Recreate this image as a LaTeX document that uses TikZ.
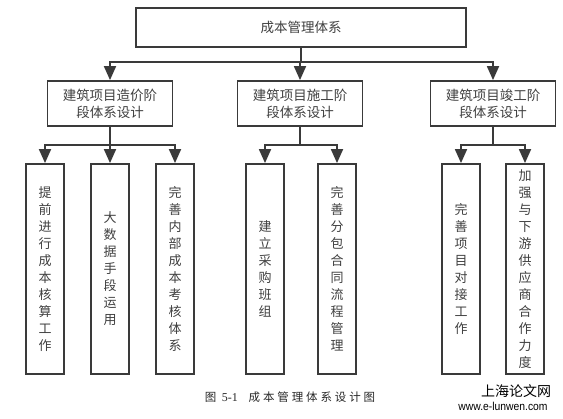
\documentclass[tikz,border=0pt]{standalone}
\usepackage{fontspec}
\setmainfont{Liberation Sans}
\newfontfamily\cjk{Noto Sans CJK SC}
\newfontfamily\capcjk[LetterSpace=25]{Noto Sans CJK SC}
\newfontfamily\capserif{Liberation Serif}
\usetikzlibrary{arrows.meta}
\definecolor{ln}{HTML}{3A3A3A}
\definecolor{tx}{HTML}{404040}
\tikzset{
  box/.style={draw=ln, line width=1.8pt, fill=white, inner sep=0pt, text=tx, font=\cjk\fontsize{13.5}{17}\selectfont, align=center},
  topbox/.style={box, minimum width=330pt, minimum height=39pt},
  midbox/.style={box, minimum width=125pt, minimum height=45pt},
  leafbox/.style={box, minimum width=38pt, minimum height=210pt, font=\cjk\fontsize{13}{17}\selectfont},
  conn/.style={draw=ln, line width=1.8pt},
  arr/.style={conn, -{Triangle[length=14pt, width=12pt]}},
}
\begin{document}
\begin{tikzpicture}[x=1pt, y=-1pt]
\useasboundingbox (0,0) rectangle (563,419);
% top
\node[topbox] (top) at (301,27.5) {\raisebox{-2pt}{成本管理体系}};
% middle
\node[midbox] (m1) at (110,103.5) {\raisebox{-2pt}{\parbox{120pt}{\centering 建筑项目造价阶\\段体系设计}}};
\node[midbox] (m2) at (300,103.5) {\raisebox{-2pt}{\parbox{120pt}{\centering 建筑项目施工阶\\段体系设计}}};
\node[midbox] (m3) at (493,103.5) {\raisebox{-2pt}{\parbox{120pt}{\centering 建筑项目竣工阶\\段体系设计}}};
% leaves
\node[leafbox] (l1) at (45,269) {\raisebox{-3pt}{\parbox{14pt}{\centering 提\\前\\进\\行\\成\\本\\核\\算\\工\\作}}};
\node[leafbox] (l2) at (110,269) {\raisebox{-3pt}{\parbox{14pt}{\centering 大\\数\\据\\手\\段\\运\\用}}};
\node[leafbox] (l3) at (175,269) {\raisebox{-3pt}{\parbox{14pt}{\centering 完\\善\\内\\部\\成\\本\\考\\核\\体\\系}}};
\node[leafbox] (l4) at (265,269) {\raisebox{-3pt}{\parbox{14pt}{\centering 建\\立\\采\\购\\班\\组}}};
\node[leafbox] (l5) at (337,269) {\raisebox{-3pt}{\parbox{14pt}{\centering 完\\善\\分\\包\\合\\同\\流\\程\\管\\理}}};
\node[leafbox] (l6) at (461,269) {\raisebox{-3pt}{\parbox{14pt}{\centering 完\\善\\项\\目\\对\\接\\工\\作}}};
\node[leafbox] (l7) at (525,269) {\raisebox{-3pt}{\parbox{14pt}{\centering 加\\强\\与\\下\\游\\供\\应\\商\\合\\作\\力\\度}}};
% junctions
\coordinate (j0) at (301,62);
\coordinate (j1) at (110,145);
\coordinate (j2) at (300,145);
\coordinate (j3) at (493,145);
% connectors
\draw[conn] (top.south -| j0) -- (j0);
\draw[arr] (j0) -| (m1.north);
\draw[arr] (j0) -| (m2.north);
\draw[arr] (j0) -| (m3.north);
\draw[conn] (m1.south) -- (j1);
\draw[arr] (j1) -| (l1.north);
\draw[arr] (j1) -- (l2.north);
\draw[arr] (j1) -| (l3.north);
\draw[conn] (m2.south) -- (j2);
\draw[arr] (j2) -| (l4.north);
\draw[arr] (j2) -| (l5.north);
\draw[conn] (m3.south) -- (j3);
\draw[arr] (j3) -| (l6.north);
\draw[arr] (j3) -| (l7.north);
% caption
\node[text=black!85, inner sep=0pt] (cap) at (290,397) {\capcjk\fontsize{11.5}{13}\selectfont 图\ {\capserif\fontsize{12}{13}\selectfont 5-1}\ \ 成本管理体系设计图};
% watermark
\node[text=black, font=\cjk\fontsize{14}{16}\selectfont, inner sep=0pt] (wm1) at (516,391) {上海论文网};
\node[text=black, font=\fontsize{11.5}{13}\selectfont, inner sep=0pt, xscale=0.9] (wm2) at (503,406) {www.e-lunwen.com};
\end{tikzpicture}
\end{document}
